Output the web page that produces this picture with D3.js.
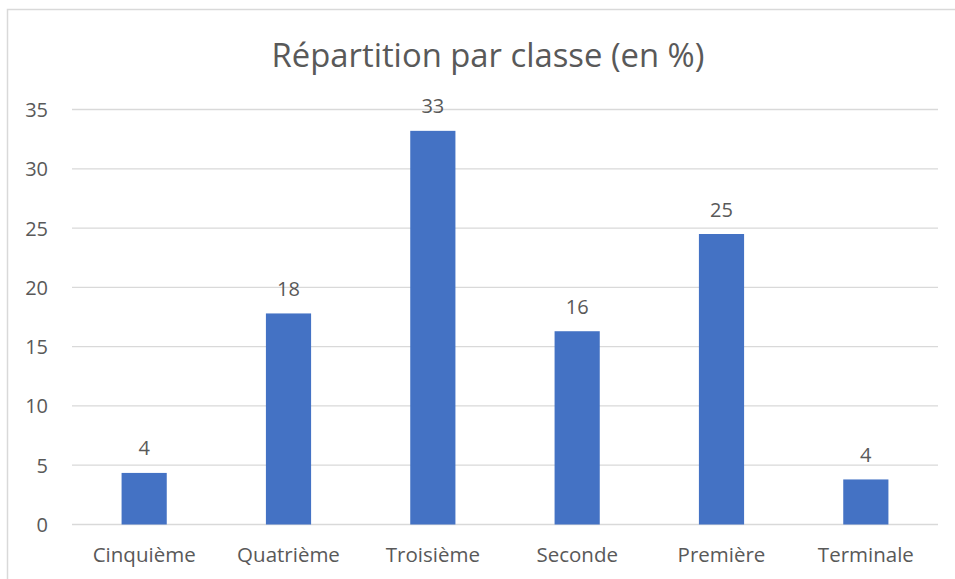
<!DOCTYPE html>
<html>
<head>
<meta charset="utf-8">
<script src="https://cdn.jsdelivr.net/npm/d3@7"></script>
<style>
  html, body { margin: 0; padding: 0; background: #fff; }
  svg { display: block; }
  text { font-family: "Open Sans", "Noto Sans", sans-serif; fill: #595959; }
</style>
</head>
<body>
<svg id="chart" width="955" height="579"></svg>
<script>
const categories = ["Cinquième", "Quatrième", "Troisième", "Seconde", "Première", "Terminale"];
const values = [4.35, 17.8, 33.2, 16.3, 24.5, 3.8];
const valueLabels = ["4", "18", "33", "16", "25", "4"];
const yTicks = [0, 5, 10, 15, 20, 25, 30, 35];
const title = "Répartition par classe (en %)";

const W = 955, H = 579;
const margin = { left: 72, right: 17, top: 109.5, bottom: 54.5 };
const svg = d3.select("#chart");

// outer chart border (cut by the image edge at right and bottom)
svg.append("rect")
  .attr("x", 7.5).attr("y", 9.5)
  .attr("width", W + 20).attr("height", H + 20)
  .attr("fill", "none").attr("stroke", "#d9d9d9").attr("stroke-width", 1.5);

const x = d3.scaleBand().domain(categories)
  .range([margin.left, W - margin.right])
  .paddingInner(0.687).paddingOuter(0.3435);
const y = d3.scaleLinear().domain([0, 35]).range([H - margin.bottom, margin.top]);

// gridlines
svg.append("g").selectAll("line").data(yTicks).join("line")
  .attr("x1", margin.left).attr("x2", W - margin.right)
  .attr("y1", d => y(d)).attr("y2", d => y(d))
  .attr("stroke", "#d9d9d9").attr("stroke-width", 1.3);

// y axis labels
const yAxis = d3.axisLeft(y).tickValues(yTicks).tickSize(0).tickPadding(0);
const gy = svg.append("g").attr("transform", `translate(48,0)`).call(yAxis);
gy.select(".domain").remove();
gy.selectAll("text").attr("font-size", 20).attr("fill", "#595959")
  .attr("font-family", '"Open Sans", sans-serif').attr("dy", "0.35em");

// x axis labels
const xAxis = d3.axisBottom(x).tickSize(0).tickPadding(0);
const gx = svg.append("g").attr("transform", `translate(0,${y(0)})`).call(xAxis);
gx.select(".domain").remove();
gx.selectAll("text").attr("font-size", 20.5).attr("fill", "#595959")
  .attr("font-family", '"Open Sans", sans-serif').attr("y", 37.5).attr("dy", 0);

// bars
svg.append("g").selectAll("rect").data(categories).join("rect")
  .attr("x", d => x(d)).attr("width", x.bandwidth())
  .attr("y", (d, i) => y(values[i]))
  .attr("height", (d, i) => y(0) - y(values[i]))
  .attr("fill", "#4472c4");

// data labels
svg.append("g").selectAll("text").data(categories).join("text")
  .attr("x", d => x(d) + x.bandwidth() / 2)
  .attr("y", (d, i) => y(values[i]) - 17.5)
  .attr("text-anchor", "middle")
  .attr("font-size", 20)
  .text((d, i) => valueLabels[i]);

// title
svg.append("text")
  .attr("x", 488).attr("y", 67)
  .attr("text-anchor", "middle")
  .attr("font-size", 32.8)
  .text(title);
</script>
</body>
</html>
